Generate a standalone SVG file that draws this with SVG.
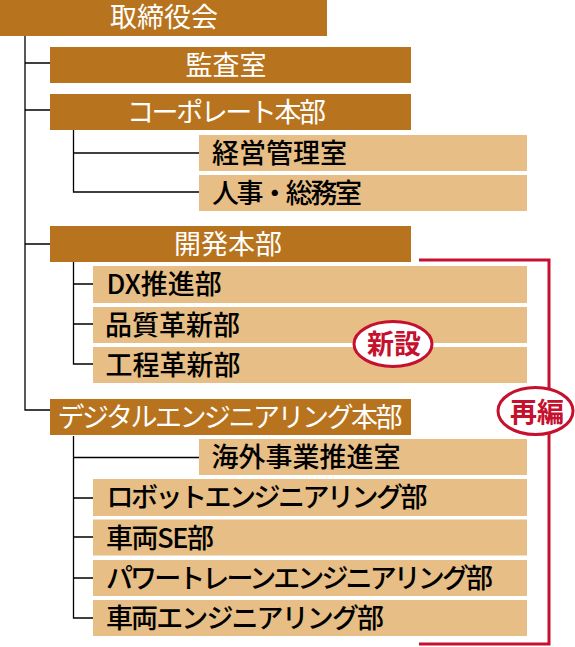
<svg xmlns="http://www.w3.org/2000/svg" width="575" height="647" viewBox="0 0 575 647">
<style>
.hd{fill:#b8731e}
.sb{fill:#e7be85}
text{font-family:"Noto Sans CJK JP","Noto Sans",sans-serif;font-size:27px}
.wt{fill:#ffffff;font-weight:400}
.bt{fill:#000000;font-weight:500}
.ln{fill:none;stroke:#000;stroke-width:1.3}
.rd{fill:none;stroke:#c5102e;stroke-width:3}
.ov{fill:#ffffff;stroke:#c5102e;stroke-width:3}
.rt{fill:#c5102e;font-weight:700;text-anchor:middle}
</style>
<rect width="575" height="647" fill="#ffffff"/>
<g id="connectors">
<path class="ln" d="M25,36 V410 H50 M25,63 H50 M25,110 H50 M25,244 H50"/>
<path class="ln" d="M73.5,130 V192 H199 M73.5,153 H199"/>
<path class="ln" d="M73.5,262 V364 H93 M73.5,284 H93 M73.5,324 H93"/>
<path class="ln" d="M73.5,436 V618 H93 M73.5,457.5 H199 M73.5,498 H93 M73.5,537 H93 M73.5,578 H93"/>
</g>
<g id="n-board"><rect class="hd" x="0" y="0" width="327" height="36"/><text class="wt" x="164" y="27" text-anchor="middle">取締役会</text></g>
<g id="n-audit"><rect class="hd" x="50" y="47" width="361" height="36"/><text class="wt" x="226" y="75" text-anchor="middle">監査室</text></g>
<g id="n-corporate"><rect class="hd" x="50" y="94" width="361" height="36"/><text class="wt" x="226.5" y="122" text-anchor="middle" textLength="199">コーポレート本部</text></g>
<g id="n-mgmt"><rect class="sb" x="199" y="135" width="328" height="36"/><text class="bt" x="212" y="163">経営管理室</text></g>
<g id="n-hr"><rect class="sb" x="199" y="175" width="328" height="36"/><text class="bt" x="212" y="203" textLength="150">人事・総務室</text></g>
<g id="n-dev"><rect class="hd" x="50" y="226" width="361" height="36"/><text class="wt" x="228" y="254" text-anchor="middle">開発本部</text></g>
<g id="n-dx"><rect class="sb" x="93" y="266" width="434" height="37"/><text class="bt" x="106.5" y="294">DX推進部</text></g>
<g id="n-quality"><rect class="sb" x="93" y="307" width="434" height="36"/><text class="bt" x="105" y="335">品質革新部</text></g>
<g id="n-process"><rect class="sb" x="93" y="347" width="434" height="36"/><text class="bt" x="105.5" y="375">工程革新部</text></g>
<g id="n-digital"><rect class="hd" x="50" y="399" width="361" height="36"/><text class="wt" x="57.5" y="427" textLength="345">デジタルエンジニアリング本部</text></g>
<g id="n-overseas"><rect class="sb" x="199" y="439" width="328" height="36"/><text class="bt" x="211.5" y="467">海外事業推進室</text></g>
<g id="n-robot"><rect class="sb" x="93" y="479" width="434" height="37"/><text class="bt" x="106.5" y="507" textLength="321">ロボットエンジニアリング部</text></g>
<g id="n-vse"><rect class="sb" x="93" y="519.5" width="434" height="36"/><text class="bt" x="106" y="548" textLength="108">車両SE部</text></g>
<g id="n-powertrain"><rect class="sb" x="93" y="560" width="434" height="36"/><text class="bt" x="106" y="588" textLength="387">パワートレーンエンジニアリング部</text></g>
<g id="n-vehicle"><rect class="sb" x="93" y="600" width="434" height="36"/><text class="bt" x="106" y="628" textLength="278">車両エンジニアリング部</text></g>
<g id="annotations">
<path class="rd" d="M419,260 H549 V644 H419"/>
<g id="a-new"><ellipse class="ov" cx="393" cy="344" rx="39" ry="22.5"/><text class="rt" x="394" y="354">新設</text></g>
<g id="a-reorg"><ellipse class="ov" cx="535.5" cy="411" rx="37.5" ry="23.5"/><text class="rt" x="537" y="421.5">再編</text></g>
</g>
</svg>
